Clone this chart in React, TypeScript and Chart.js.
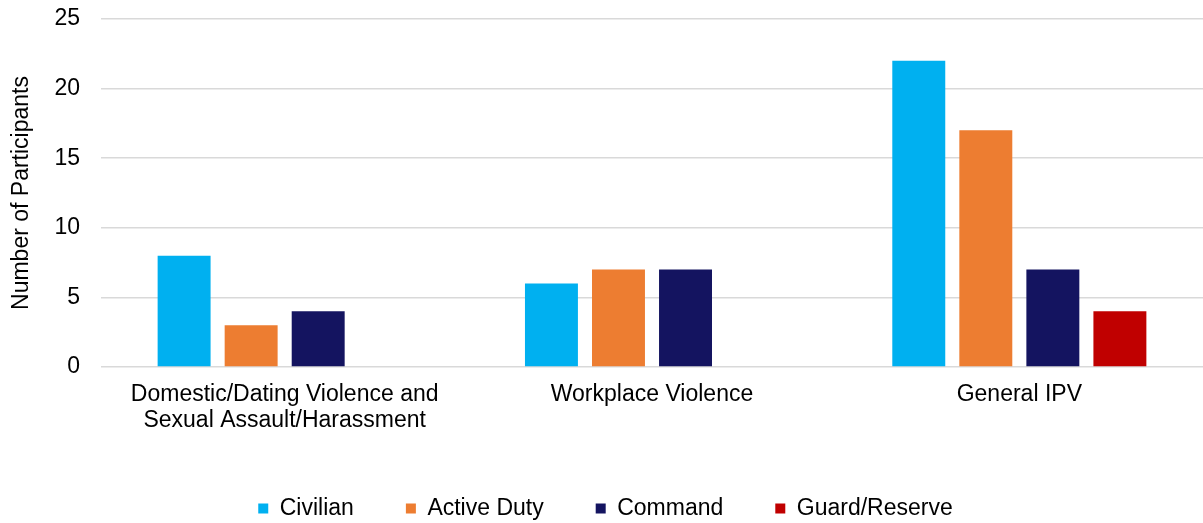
import React, { useEffect, useRef } from "react";
import { Chart, registerables } from "chart.js";

Chart.register(...registerables);

const categories: (string | string[])[] = [
  ["Domestic/Dating Violence and", "Sexual Assault/Harassment"],
  "Workplace Violence",
  "General IPV",
];
const seriesNames = ["Civilian", "Active Duty", "Command", "Guard/Reserve"];
const civilian = [8, 6, 22];
const activeDuty = [3, 7, 17];
const command = [4, 7, 7];
const guardReserve = [null, null, 4];
const seriesColors = ["#00B0F0", "#ED7D31", "#141460", "#C00000"];
const yTicks = { min: 0, max: 25, step: 5 };

const FONT = "'Liberation Sans', Arial, sans-serif";

export default function App() {
  const ref = useRef<HTMLCanvasElement | null>(null);

  useEffect(() => {
    document.body.style.margin = "0";
    if (!ref.current) return;
    const values = [civilian, activeDuty, command, guardReserve];
    const chart = new Chart(ref.current, {
      type: "bar",
      data: {
        labels: categories as any,
        datasets: seriesNames.map((name, i) => ({
          label: name,
          data: values[i] as any,
          backgroundColor: seriesColors[i],
          borderWidth: 0,
          categoryPercentage: 0.73,
          barPercentage: 0.79,
        })),
      },
      options: {
        animation: false,
        responsive: true,
        maintainAspectRatio: false,
        layout: { padding: { top: 19, left: 8, right: 0, bottom: -7 } },
        plugins: {
          tooltip: { enabled: false },
          legend: {
            position: "bottom",
            labels: {
              boxWidth: 10,
              boxHeight: 10,
              padding: 52,
              color: "#000",
              font: { family: FONT, size: 23 },
            },
          },
        },
        scales: {
          x: {
            grid: { display: false, drawTicks: false },
            border: { display: false },
            ticks: {
              color: "#000",
              padding: 15,
              font: { family: FONT, size: 23, lineHeight: 1.13 },
              maxRotation: 0,
              autoSkip: false,
            },
            afterFit: (scale: any) => {
              scale.height = 78;
            },
          },
          y: {
            min: yTicks.min,
            max: yTicks.max,
            ticks: {
              stepSize: yTicks.step,
              color: "#000",
              padding: 21,
              font: { family: FONT, size: 23 },
            },
            grid: { color: "#D9D9D9", lineWidth: 1.5, drawTicks: false },
            border: { display: false },
            title: {
              display: true,
              text: "Number of Participants",
              color: "#000",
              padding: 0,
              font: { family: FONT, size: 23, lineHeight: 1.2 },
            },
            afterFit: (scale: any) => {
              scale.width = 93;
              scale.paddingTop = 0;
              scale.paddingBottom = 0;
            },
          },
        },
      },
    });
    return () => chart.destroy();
  }, []);

  return (
    <div style={{ width: 1203, height: 523, position: "relative" }}>
      <canvas ref={ref} />
    </div>
  );
}
